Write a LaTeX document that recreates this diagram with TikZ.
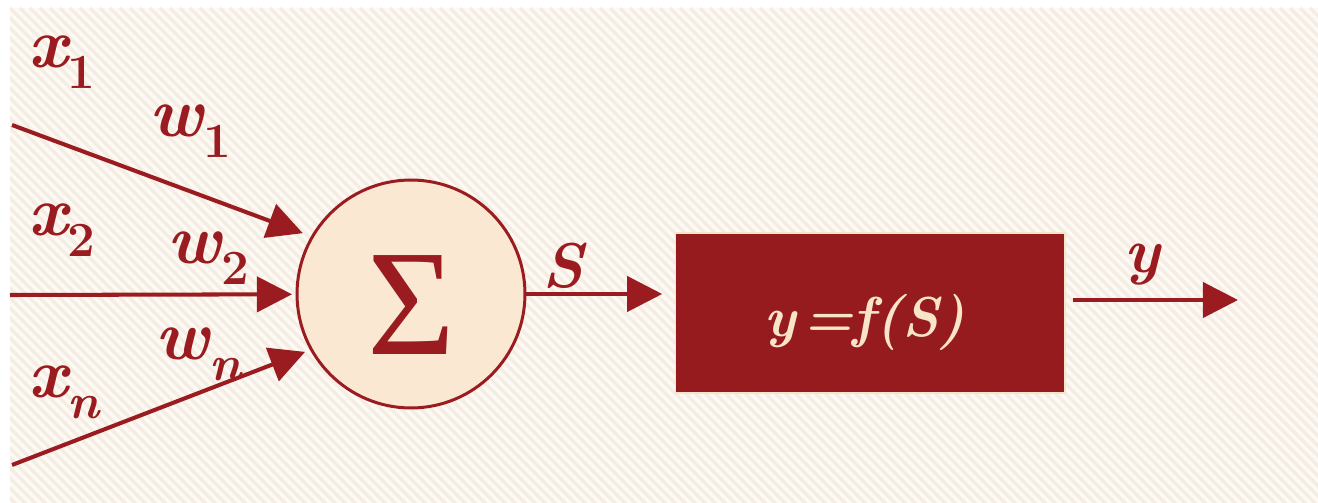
\documentclass[tikz,border=0pt]{standalone}
\usepackage{fontspec}
\newfontfamily\sigfont{Liberation Serif}
\usetikzlibrary{arrows.meta,positioning,calc}
\definecolor{Wine}{HTML}{9A1C20}
\definecolor{Block}{HTML}{951B1F}
\definecolor{Cream}{HTML}{FBE8D3}
\definecolor{Ink}{HTML}{F8E4C8}
\definecolor{Paper}{HTML}{FDFAF5}
\definecolor{Hatch}{HTML}{F5EDE3}
\newcommand{\subidx}[1]{\raisebox{-0.3em}{\fontsize{28}{28}\selectfont #1}}

\begin{document}
\begin{tikzpicture}[x=0.02cm,y=-0.02cm,
    sig/.style={Wine,line width=2.3pt,-{Triangle[length=20pt,width=20pt]}},
    var/.style={text=Wine,font=\fontsize{40}{40}\selectfont\bfseries\itshape,inner sep=0pt}]
  \useasboundingbox (0,0) rectangle (1318,503);
  \fill[Paper] (10,8) rectangle (1318,503);
  \begin{scope}
    \clip (10,8) rectangle (1318,503);
    \foreach \i in {-500,-490,...,1320}
      \draw[Hatch,line width=2pt] (\i,8) -- ++(500,500);
  \end{scope}
  \node[circle,draw=Wine,line width=1.7pt,fill=Cream,minimum size=4.56cm,inner sep=0pt] (sum) at (411,294) {};
  \node[text=Wine,font=\fontsize{86}{86}\sigfont] (sigma) at (411,305) {Σ};
  \node[rectangle,draw=Ink,line width=0.6pt,fill=Block,minimum width=7.8cm,minimum height=3.2cm] (act) at (870,313) {};
  \node[text=Ink,font=\fontsize{32}{32}\selectfont\bfseries\itshape,execute at begin node={\spaceskip=0.12em}] (fs) at (865,322) {y =f(S)};
  \coordinate (in1) at (12,125);
  \coordinate (in2) at (10,295);
  \coordinate (inn) at (12,465);
  \coordinate (out) at (1238,300);
  \draw[sig,shorten >=5pt] (in1) -- (sum.150);
  \draw[sig,shorten >=2pt] (in2) -- (sum);
  \draw[sig,shorten >=3pt] (inn) -- (sum.209);
  \draw[sig,shorten >=7pt] (sum) -- (sum -| act.west);
  \draw[sig,shorten <=4pt] (act.east |- out) -- (out);
  \node[var] (x1) at (62,62) {x\subidx{\upshape 1}};
  \node[var] (x2) at (62,230) {x\subidx{\upshape 2}};
  \node[var] (xn) at (64,392) {x\subidx{n}};
  \node[var] (w1) at (190,131) {w\subidx{\upshape 1}};
  \node[var] (w2) at (208,258) {w\subidx{\upshape 2}};
  \node[var] (wn) at (198,354) {w\subidx{n}};
  \node[var,font=\fontsize{36}{36}\selectfont\bfseries\itshape] (s) at (563,266) {S};
  \node[var,font=\fontsize{36}{36}\selectfont\bfseries\itshape] (y) at (1142,265) {y};
\end{tikzpicture}
\end{document}
